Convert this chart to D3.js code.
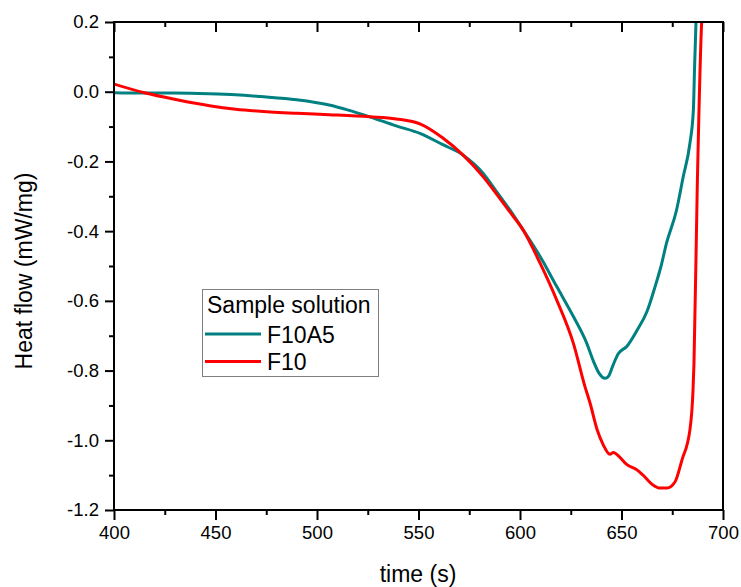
<!DOCTYPE html>
<html>
<head>
<meta charset="utf-8">
<script src="https://cdn.jsdelivr.net/npm/d3@7"></script>
<style>
  html, body { margin: 0; padding: 0; background: #fff; }
  svg { display: block; }
  text { font-family: "Liberation Sans", Arial, sans-serif; fill: #000; }
</style>
</head>
<body>
<svg id="chart" width="741" height="587"></svg>
<script>
// ---- data ----
const seriesNames = ["F10A5", "F10"];
const legendTitle = "Sample solution";

const timeF10A5 = [400, 415, 430, 447, 460, 472, 490, 506, 515, 526, 539, 551, 562, 572, 582, 588, 595, 601.6, 609.9, 618.1, 626.3, 632.9, 636.1, 639, 641.9, 643.5, 646, 648.4, 652.7, 657.6, 662.6, 666.5, 669.5, 672.2, 677.1, 680.4, 683.7, 685.4, 686.0, 686.7, 687.2];
const flowF10A5 = [-0.003, -0.004, -0.004, -0.006, -0.009, -0.014, -0.023, -0.038, -0.052, -0.072, -0.098, -0.12, -0.152, -0.182, -0.235, -0.283, -0.339, -0.397, -0.473, -0.559, -0.645, -0.722, -0.772, -0.808, -0.822, -0.817, -0.782, -0.752, -0.73, -0.685, -0.63, -0.56, -0.5, -0.434, -0.34, -0.244, -0.148, -0.053, 0.07, 0.2, 0.3];

const timeF10 = [400, 415, 431, 447, 460, 472, 490, 506, 526, 539, 551, 562, 572, 582, 588, 595, 601.6, 609.9, 618.1, 626.3, 632, 634.5, 638, 641, 644.3, 646, 648, 652.7, 657.6, 660.6, 665.5, 669, 672.4, 676.4, 679.8, 683.7, 685.2, 685.7, 687.3, 689.5, 690];
const flowF10 = [0.022, -0.003, -0.023, -0.04, -0.05, -0.056, -0.062, -0.066, -0.072, -0.078, -0.093, -0.133, -0.182, -0.245, -0.29, -0.345, -0.397, -0.492, -0.598, -0.722, -0.846, -0.893, -0.97, -1.013, -1.04, -1.035, -1.042, -1.07, -1.085, -1.1, -1.128, -1.137, -1.137, -1.119, -1.056, -0.97, -0.86, -0.78, -0.28, 0.2, 0.25];

const xMajorTicks = [400, 450, 500, 550, 600, 650, 700];
const xMajorLabels = ["400", "450", "500", "550", "600", "650", "700"];
const xMinorTicks = [425, 475, 525, 575, 625, 675];
const yMajorTicks = [0.2, 0.0, -0.2, -0.4, -0.6, -0.8, -1.0, -1.2];
const yMajorLabels = ["0.2", "0.0", "-0.2", "-0.4", "-0.6", "-0.8", "-1.0", "-1.2"];
const yMinorTicks = [0.1, -0.1, -0.3, -0.5, -0.7, -0.9, -1.1];

const xTitle = "time (s)";
const yTitle = "Heat flow (mW/mg)";
const colors = ["#008080", "#ff0000"];

// ---- layout ----
const svg = d3.select("#chart");
const L = 114, R = 723, T = 22, B = 510;

const x = d3.scaleLinear().domain([400, 700]).range([L, R]);
const y = d3.scaleLinear().domain([-1.2, 0.2]).range([B, T]);

svg.append("defs").append("clipPath").attr("id", "clip")
  .append("rect").attr("x", L).attr("y", T).attr("width", R - L).attr("height", B - T);

const series = [
  { name: seriesNames[0], t: timeF10A5, v: flowF10A5, color: colors[0] },
  { name: seriesNames[1], t: timeF10, v: flowF10, color: colors[1] }
];

const line = d3.line().x(d => x(d[0])).y(d => y(d[1])).curve(d3.curveMonotoneX);

const g = svg.append("g").attr("clip-path", "url(#clip)");
series.forEach(s => {
  g.append("path")
    .datum(s.t.map((t, i) => [t, s.v[i]]))
    .attr("fill", "none")
    .attr("stroke", s.color)
    .attr("stroke-width", 3)
    .attr("stroke-linejoin", "round")
    .attr("d", line);
});

function styleAxis(sel) {
  sel.select(".domain").remove();
  sel.selectAll(".tick line").attr("stroke", "#000").attr("stroke-width", 2);
  sel.selectAll(".tick text").style("font-size", "18.5px").style("font-family", '"Liberation Sans", Arial, sans-serif');
}

// bottom axis
svg.append("g").attr("transform", `translate(0,${B})`)
  .call(d3.axisBottom(x).tickValues(xMajorTicks).tickSize(10).tickPadding(6)
    .tickFormat((d, i) => xMajorLabels[i]))
  .call(styleAxis);
svg.append("g").attr("transform", `translate(0,${B})`)
  .call(d3.axisBottom(x).tickValues(xMinorTicks).tickSize(5).tickFormat(""))
  .call(styleAxis);
// top axis (inward ticks)
svg.append("g").attr("transform", `translate(0,${T})`)
  .call(d3.axisTop(x).tickValues(xMajorTicks).tickSize(-10).tickFormat(""))
  .call(styleAxis);
svg.append("g").attr("transform", `translate(0,${T})`)
  .call(d3.axisTop(x).tickValues(xMinorTicks).tickSize(-5).tickFormat(""))
  .call(styleAxis);
// left axis
svg.append("g").attr("transform", `translate(${L},0)`)
  .call(d3.axisLeft(y).tickValues(yMajorTicks).tickSize(9).tickPadding(6)
    .tickFormat((d, i) => yMajorLabels[i]))
  .call(styleAxis);
svg.append("g").attr("transform", `translate(${L},0)`)
  .call(d3.axisLeft(y).tickValues(yMinorTicks).tickSize(5).tickFormat(""))
  .call(styleAxis);

// frame
svg.append("rect").attr("x", L).attr("y", T).attr("width", R - L).attr("height", B - T)
  .attr("fill", "none").attr("stroke", "#000").attr("stroke-width", 2);

// axis titles
svg.append("text").attr("x", 418).attr("y", 582)
  .attr("text-anchor", "middle").style("font-size", "23px").text(xTitle);
svg.append("text").attr("transform", `translate(32,271) rotate(-90)`)
  .attr("text-anchor", "middle").style("font-size", "23px").text(yTitle);

// legend
const lg = svg.append("g");
lg.append("rect").attr("x", 202.5).attr("y", 289.5).attr("width", 176).attr("height", 87)
  .attr("fill", "#fff").attr("stroke", "#808080").attr("stroke-width", 1);
lg.append("text").attr("x", 207).attr("y", 313).style("font-size", "23px").text(legendTitle);
series.forEach((s, i) => {
  const cy = 334 + i * 27.5;
  lg.append("line").attr("x1", 205).attr("x2", 261).attr("y1", cy).attr("y2", cy)
    .attr("stroke", s.color).attr("stroke-width", 3);
  lg.append("text").attr("x", 267).attr("y", cy + 8.5).style("font-size", "23px").text(s.name);
});
</script>
</body>
</html>
